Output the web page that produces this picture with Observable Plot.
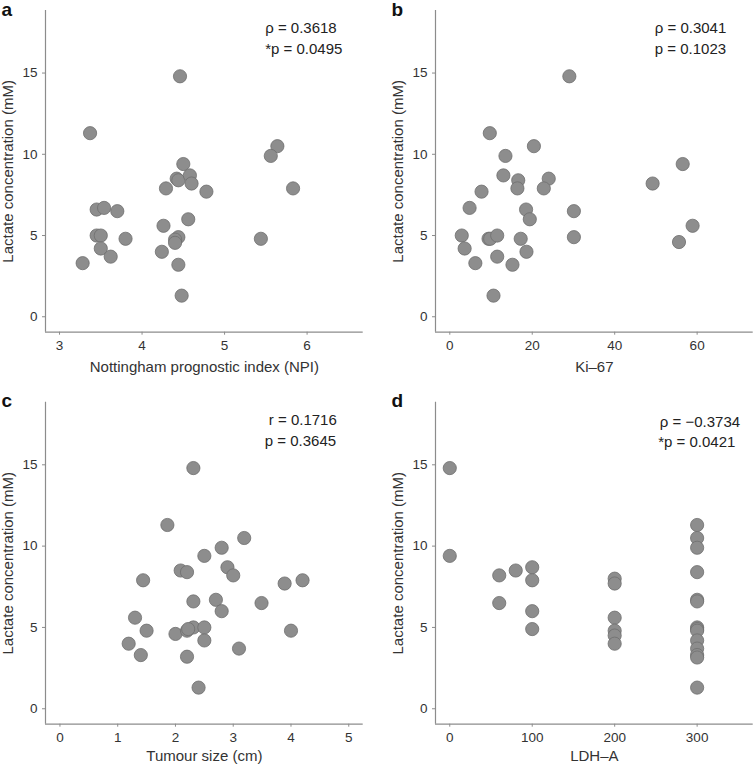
<!DOCTYPE html>
<html><head><meta charset="utf-8">
<script src="https://cdn.jsdelivr.net/npm/d3@7"></script>
<script src="https://cdn.jsdelivr.net/npm/@observablehq/plot@0.6"></script>
<style>
body{margin:0;background:#fff;}
#wrap{position:relative;width:753px;height:764px;font-family:"Liberation Sans",Arial,sans-serif;}
#wrap > div{position:absolute;}
#wrap svg{overflow:visible;}
#wrap [aria-label="x-axis tick"] path,#wrap [aria-label="y-axis tick"] path,#wrap [aria-label="x-axis"] line,#wrap [aria-label="y-axis"] line{stroke:#8c8c8c;}
</style></head><body><div id="wrap"></div>
<script>
const yLabel = "Lactate concentration (mM)";
const yTicks = [0, 5, 10, 15];

// a: NPI
const npiX = [4.46,3.37,5.64,5.56,4.50,4.42,4.44,4.58,4.60,4.29,4.78,5.83,3.45,3.54,3.70,4.26,4.56,3.45,3.50,3.80,3.50,3.62,3.28,4.24,4.44,4.40,4.40,4.44,4.48,5.44];
const npiY = [14.8,11.3,10.5,9.9,9.4,8.5,8.4,8.7,8.2,7.9,7.7,7.9,6.6,6.7,6.5,5.6,6.0,5.0,5.0,4.8,4.2,3.7,3.3,4.0,4.9,4.75,4.55,3.2,1.3,4.8];
const npiTicks = [3, 4, 5, 6];
const npiLabel = "Nottingham prognostic index (NPI)";
const npiStats = ["ρ = 0.3618", "*p = 0.0495"];

// b: Ki-67
const kiX = [29.0,9.7,20.4,13.5,56.5,13.0,16.6,16.4,24.0,22.8,49.2,7.7,4.8,18.5,19.4,30.1,30.1,2.9,3.6,6.2,9.4,9.8,11.5,17.2,11.5,15.2,18.6,10.6,58.9,55.6];
const kiY = [14.8,11.3,10.5,9.9,9.4,8.7,8.4,7.9,8.5,7.9,8.2,7.7,6.7,6.6,6.0,6.5,4.9,5.0,4.2,3.3,4.8,4.8,5.0,4.8,3.7,3.2,4.0,1.3,5.6,4.6];
const kiTicks = [0, 20, 40, 60];
const kiLabel = "Ki–67";
const kiStats = ["ρ = 0.3041", "p = 0.1023"];

// c: tumour size
const sizeX = [2.31,1.86,3.19,2.80,2.50,2.09,2.20,2.90,3.00,1.44,3.89,4.20,2.31,2.70,2.80,3.49,1.30,1.50,1.19,1.40,2.00,2.20,2.31,2.50,2.50,2.20,3.10,4.00,2.40,2.22];
const sizeY = [14.8,11.3,10.5,9.9,9.4,8.5,8.4,8.7,8.2,7.9,7.7,7.9,6.6,6.7,6.0,6.5,5.6,4.8,4.0,3.3,4.6,4.8,5.0,5.0,4.2,3.2,3.7,4.8,1.3,4.9];
const sizeTicks = [0, 1, 2, 3, 4, 5];
const sizeLabel = "Tumour size (cm)";
const sizeStats = ["r = 0.1716", "p = 0.3645"];

// d: LDH-A
const ldhX = [0,0,60,60,80,100,100,100,100,200,200,200,200,200,200,300,300,300,300,300,300,300,300,300,300,300,300,300,300];
const ldhY = [14.8,9.4,8.2,6.5,8.5,8.7,7.9,6.0,4.9,8.0,7.7,5.6,4.8,4.5,4.0,11.3,10.5,9.9,8.4,6.7,6.6,5.0,4.9,4.8,4.2,3.7,3.3,3.15,1.3];
const ldhTicks = [0, 100, 200, 300];
const ldhLabel = "LDH–A";
const ldhStats = ["ρ = −0.3734", "*p = 0.0421"];

const FONT = '"Liberation Sans", Arial, sans-serif';
const yDomain = [-0.95, 18.85];

const panels = [
  {letter:"a", xs:npiX, ys:npiY, ticks:npiTicks, xLabel:npiLabel, stats:npiStats, xDomain:[2.83,6.68],
   left:0, top:0, width:376, height:380, mt:10, mb:48.3, ml:45, mr:13.3, xlDy:39.5, statDx:[-98,-98], statDy:[22.5,43]},
  {letter:"b", xs:kiX, ys:kiY, ticks:kiTicks, xLabel:kiLabel, stats:kiStats, xDomain:[-3.47,73.6],
   left:376, top:0, width:377, height:380, mt:10, mb:48.3, ml:59, mr:0.3, xlDy:39.5, statDx:[-98.4,-98.4], statDy:[22.5,43]},
  {letter:"c", xs:sizeX, ys:sizeY, ticks:sizeTicks, xLabel:sizeLabel, stats:sizeStats, xDomain:[-0.25,5.25],
   left:0, top:380, width:376, height:384, mt:21.7, mb:40.3, ml:45, mr:13.3, xlDy:36.3, statDx:[-94.4,-98.4], statDy:[22.8,43.3]},
  {letter:"d", xs:ldhX, ys:ldhY, ticks:ldhTicks, xLabel:ldhLabel, stats:ldhStats, xDomain:[-17.3,368],
   left:376, top:380, width:377, height:384, mt:21.7, mb:40.3, ml:59, mr:0.3, xlDy:36.3, statDx:[-93.4,-95], statDy:[24.7,44.8]}
];

const wrap = document.getElementById("wrap");
const NS = "http://www.w3.org/2000/svg";

for (const p of panels) {
  const data = p.xs.map((x, i) => ({x, y: p.ys[i]}));
  const chart = Plot.plot({
    width: p.width, height: p.height,
    marginTop: p.mt, marginBottom: p.mb, marginLeft: p.ml, marginRight: p.mr,
    style: {fontFamily: FONT, fontSize: "13.5px", color: "#333", background: "transparent", overflow: "visible"},
    x: {domain: p.xDomain, ticks: p.ticks, tickSize: 3, tickPadding: 5, label: null, tickFormat: d => String(d)},
    y: {domain: yDomain, ticks: yTicks, tickSize: 3, tickPadding: 5, label: null, tickFormat: d => String(d)},
    marks: [
      Plot.ruleX([p.xDomain[0]], {stroke: "#8c8c8c", strokeWidth: 1.2}),
      Plot.ruleY([yDomain[0]], {stroke: "#8c8c8c", strokeWidth: 1.2}),
      Plot.dot(data, {x: "x", y: "y", r: 6.6, fill: "#8d8d8d", stroke: "#6f6f6f", strokeWidth: 0.8}),
      Plot.text([p.xLabel], {text: d => d, frameAnchor: "bottom", dy: p.xlDy, lineAnchor: "bottom", textAnchor: "middle", fontSize: 15, fill: "#333"}),
      Plot.text([yLabel], {text: d => d, frameAnchor: "left", rotate: -90, dx: -32.5, lineAnchor: "bottom", textAnchor: "middle", fontSize: 15, fill: "#333"}),
      Plot.text([p.letter], {text: d => d, frameAnchor: "top-left", textAnchor: "start", dx: -44, dy: 5, lineAnchor: "bottom", fontSize: 19, fontWeight: "bold", fill: "#111"}),
      ...p.stats.map((s, i) => Plot.text([s], {text: d => d, frameAnchor: "top-right", textAnchor: "start", dx: p.statDx[i], dy: p.statDy[i], lineAnchor: "bottom", fontSize: 15, fill: "#222", ariaLabel: "stat"}))
    ]
  });
  const holder = document.createElement("div");
  holder.style.left = p.left + "px";
  holder.style.top = p.top + "px";
  holder.appendChild(chart);
  wrap.appendChild(holder);
}

// italicise statistic symbols, hang asterisk to the left
document.querySelectorAll('g[aria-label="stat"] text').forEach(t => {
  const s = t.textContent;
  const m = s.match(/^(\*?)(\S)(.*)$/);
  if (!m) return;
  t.textContent = "";
  if (m[1]) {
    const st = document.createElementNS(NS, "tspan");
    st.textContent = "*";
    st.setAttribute("font-size", "13");
    st.setAttribute("dx", "-5");
    t.appendChild(st);
  }
  const sym = document.createElementNS(NS, "tspan");
  sym.textContent = m[2];
  sym.style.fontStyle = "italic";
  sym.style.fontFamily = '"DejaVu Sans", "Liberation Sans", sans-serif';
  sym.setAttribute("font-style", "italic");
  t.appendChild(sym);
  const rest = document.createElementNS(NS, "tspan");
  rest.textContent = m[3];
  t.appendChild(rest);
});
</script>
</body></html>
